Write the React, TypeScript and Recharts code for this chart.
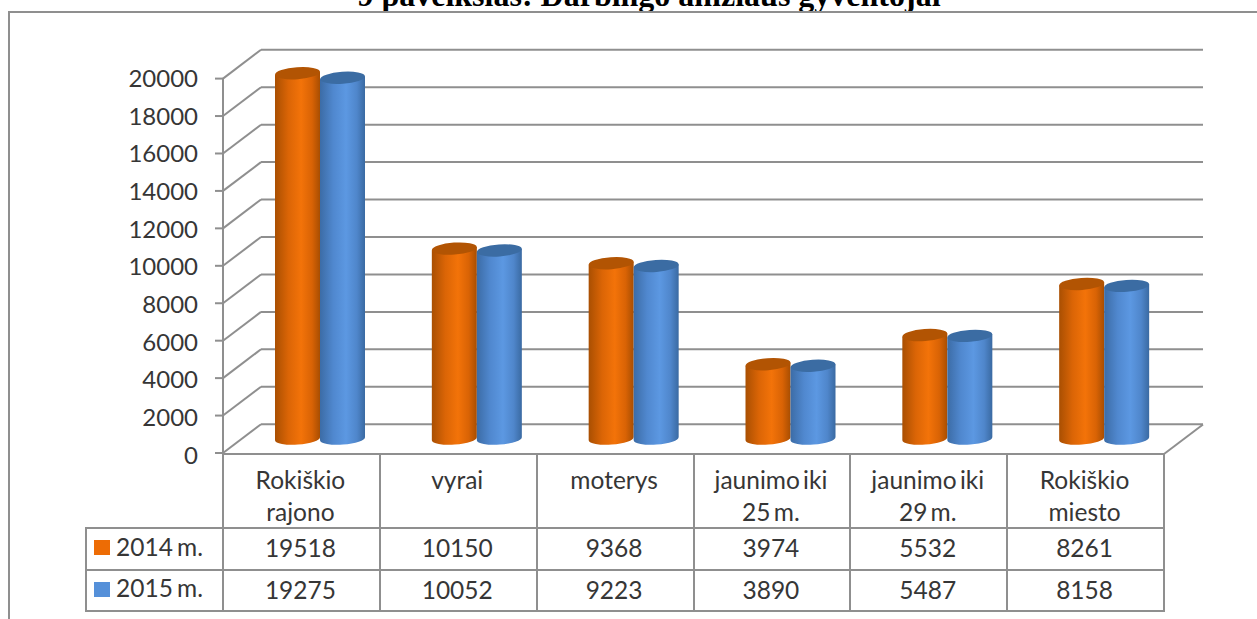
import { BarChart, Bar, XAxis, YAxis, CartesianGrid } from "recharts";

const categories = ["Rokiškio rajono", "vyrai", "moterys", "jaunimo iki 25 m.", "jaunimo iki 29 m.", "Rokiškio miesto"];
const categoryLines = [["Rokiškio", "rajono"], ["vyrai"], ["moterys"], ["jaunimo iki", "25 m."], ["jaunimo iki", "29 m."], ["Rokiškio", "miesto"]];
const values2014 = [19518, 10150, 9368, 3974, 5532, 8261];
const values2015 = [19275, 10052, 9223, 3890, 5487, 8158];
const yTicks = [0, 2000, 4000, 6000, 8000, 10000, 12000, 14000, 16000, 18000, 20000];

const chartData = categories.map((name, i) => ({ name, y2014: values2014[i], y2015: values2015[i] }));

const GRID = "#8f8f8f";
const TEXT = "#363636";
const FONT = "Lato, sans-serif";
const DEPTH_X = 19;
const DEPTH_Y = 14.4;
const FRONT_LEFT = 223;
const FRONT_RIGHT = 1164;
const COL_W = (FRONT_RIGHT - FRONT_LEFT) / 6;

function Cylinder(props: any) {
  const { x, y, width, height, grad, cap } = props;
  const rx = width / 2;
  const ry = 6;
  const d = 1.6;
  const rot = -4;
  const cx = x + rx;
  const bottom = y + height;
  const path = `M${x} ${y + d} L${x} ${bottom + d} A${rx} ${ry} ${rot} 0 0 ${x + width} ${bottom - d} L${x + width} ${y - d} Z`;
  return (
    <g>
      <path d={path} fill={`url(#${grad})`} />
      <ellipse cx={cx} cy={y} rx={rx} ry={ry} fill={cap} transform={`rotate(${rot} ${cx} ${y})`} />
    </g>
  );
}

// back wall line plus the diagonal running to the front axis
function GridLine(props: any) {
  const { y1, x2, index } = props;
  const backY = y1 - DEPTH_Y;
  const frontY = y1 + DEPTH_Y;
  return (
    <g key={index} stroke={GRID} strokeWidth={2} fill="none">
      <line x1={x2 + DEPTH_X + 1} y1={backY} x2={FRONT_LEFT + 2 * DEPTH_X} y2={backY} />
      <line x1={FRONT_LEFT + 2 * DEPTH_X} y1={backY} x2={FRONT_LEFT} y2={frontY} />
      <line x1={FRONT_LEFT} y1={frontY} x2={FRONT_LEFT - 8} y2={frontY} />
    </g>
  );
}

function YTick(props: any) {
  const { y, payload } = props;
  return (
    <text x={198} y={y + DEPTH_Y + 8.5 + (20000 - payload.value) / 10000} textAnchor="end" fontFamily={FONT} fontSize={24} fill={TEXT}>
      {payload.value}
    </text>
  );
}

const cellBase: any = {
  position: "absolute",
  textAlign: "center",
  fontFamily: FONT,
  fontSize: 24.5,
  color: TEXT,
  boxSizing: "border-box",
};
const ROW_Y = [452.5, 526.5, 568.5, 609.5];

function DataTable() {
  const lines: any[] = [];
  // horizontal rules
  lines.push({ left: FRONT_LEFT - 1, top: ROW_Y[0], width: FRONT_RIGHT - FRONT_LEFT + 2, height: 2 });
  for (let r = 1; r < 4; r++) lines.push({ left: 85, top: ROW_Y[r], width: FRONT_RIGHT - 85 + 1, height: 2 });
  // vertical rules
  for (let c = 0; c <= 6; c++) lines.push({ left: FRONT_LEFT - 1 + c * COL_W, top: ROW_Y[0], width: 2, height: ROW_Y[3] - ROW_Y[0] + 2 });
  lines.push({ left: 85, top: ROW_Y[1], width: 2, height: ROW_Y[3] - ROW_Y[1] + 2 });
  const rows = [
    { label: "2014 m.", color: "#ED6C05", vals: values2014 },
    { label: "2015 m.", color: "#5590D9", vals: values2015 },
  ];
  return (
    <>
      {lines.map((s, i) => (
        <div key={i} style={{ position: "absolute", background: GRID, ...s }} />
      ))}
      {categoryLines.map((ls, c) => (
        <div
          key={c}
          style={{ ...cellBase, left: FRONT_LEFT - 1 + c * COL_W, top: 464, width: COL_W, lineHeight: "32px", wordSpacing: -3 }}
        >
          {ls.map((l) => (
            <div key={l}>{l}</div>
          ))}
        </div>
      ))}
      {rows.map((row, r) => (
        <div key={row.label}>
          <div style={{ position: "absolute", left: 94, top: 540 + r * 42, width: 16, height: 15, background: row.color }} />
          <div style={{ ...cellBase, left: 116, top: 530 + r * 41, lineHeight: "34px", textAlign: "left", wordSpacing: -2 }}>{row.label}</div>
          {row.vals.map((v, c) => (
            <div key={c} style={{ ...cellBase, left: FRONT_LEFT - 1 + c * COL_W, top: 531 + r * 42, width: COL_W, lineHeight: "34px" }}>
              {v}
            </div>
          ))}
        </div>
      ))}
    </>
  );
}

export default function App() {
  return (
    <div style={{ position: "absolute", left: 0, top: 0, width: 1257, height: 619, overflow: "hidden", background: "#fff" }}>
      <div
        style={{
          position: "absolute",
          left: 0,
          width: 1298,
          top: -21,
          textAlign: "center",
          fontFamily: "'Liberation Serif', serif",
          fontWeight: "bold",
          fontSize: 32,
          lineHeight: "32px",
          color: "#000",
          whiteSpace: "nowrap",
        }}
      >
        9 paveikslas: Darbingo amžiaus gyventojai
      </div>
      <div style={{ position: "absolute", left: 8, top: 11, width: 2000, height: 2000, border: `2px solid ${GRID}`, boxSizing: "border-box" }} />
      <svg width={1257} height={619} style={{ position: "absolute", left: 0, top: 0 }}>
        <line x1={FRONT_LEFT} y1={78} x2={FRONT_LEFT} y2={454} stroke={GRID} strokeWidth={2} />
        <line x1={FRONT_RIGHT} y1={454} x2={FRONT_RIGHT + 2 * DEPTH_X + 1} y2={424.5} stroke={GRID} strokeWidth={2} />
      </svg>
      <div style={{ position: "absolute", left: 0, top: 0 }}>
        <BarChart
          width={1257}
          height={619}
          data={chartData}
          barSize={45}
          barGap={0}
          margin={{ top: 64.2, right: 74, bottom: 180.4, left: 241 }}
        >
          <defs>
            <linearGradient id="orangeCyl" x1="0" y1="0" x2="1" y2="0">
              <stop offset="0%" stopColor="#A94F02" />
              <stop offset="30%" stopColor="#DB6506" />
              <stop offset="58%" stopColor="#F37309" />
              <stop offset="82%" stopColor="#D96305" />
              <stop offset="100%" stopColor="#A84E02" />
            </linearGradient>
            <linearGradient id="blueCyl" x1="0" y1="0" x2="1" y2="0">
              <stop offset="0%" stopColor="#3C6CA6" />
              <stop offset="30%" stopColor="#5088CF" />
              <stop offset="58%" stopColor="#5C98E2" />
              <stop offset="82%" stopColor="#4F86CB" />
              <stop offset="100%" stopColor="#3A6AA2" />
            </linearGradient>
          </defs>
          <CartesianGrid vertical={false} horizontal={(p: any) => <GridLine {...p} />} />
          <XAxis dataKey="name" hide />
          <YAxis width={1} domain={[0, 20000]} ticks={yTicks} interval={0} axisLine={false} tickLine={false} tick={(p: any) => <YTick {...p} />} />
          <Bar dataKey="y2014" isAnimationActive={false} shape={(p: any) => <Cylinder {...p} grad="orangeCyl" cap="#B25403" />} />
          <Bar dataKey="y2015" isAnimationActive={false} shape={(p: any) => <Cylinder {...p} grad="blueCyl" cap="#3B6CA3" />} />
        </BarChart>
      </div>
      <DataTable />
    </div>
  );
}
